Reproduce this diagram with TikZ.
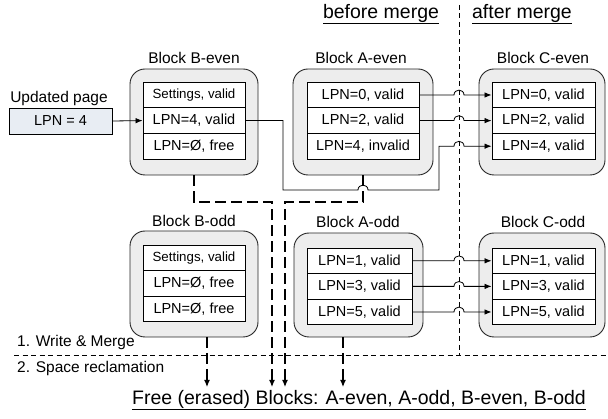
\documentclass[tikz,border=0pt]{standalone}
\usepackage{fontspec}
\setmainfont{Liberation Sans}
\usetikzlibrary{arrows.meta}
\begin{document}
\begin{tikzpicture}[x=1pt,y=-1pt,
  blk/.style={draw=black!85, fill=black!7, rounded corners=15pt, line width=0.9pt, inner sep=0pt},
  cell/.style={draw=black, fill=white, line width=0.9pt, inner sep=0pt, minimum height=25.6pt, font=\fontsize{14.5}{16}\selectfont},
  ttl/.style={font=\fontsize{15.5}{18}\selectfont, inner sep=0pt},
  hdr/.style={font=\fontsize{19.5}{22}\selectfont, inner sep=0pt},
  lbl/.style={font=\fontsize{15.5}{18}\selectfont, inner sep=0pt, anchor=west},
  conn/.style={line width=0.8pt, -{Latex[length=7pt,width=5.5pt]}},
  wire/.style={line width=0.8pt},
  dconn/.style={line width=1.2pt, dash pattern=on 11pt off 5pt, -{Latex[length=7pt,width=6pt]}},
  sep/.style={line width=0.8pt, dash pattern=on 5pt off 3.5pt}
]
\useasboundingbox (0,0) rectangle (608,419);

% headers
\node[hdr] (hbefore) at (381,14) {\underline{before merge}};
\node[hdr] (hafter) at (522,14) {\underline{after merge}};

% separators
\coordinate (vtop) at (459,5);
\coordinate (vbot) at (459,355);
\coordinate (hleft) at (14,355);
\coordinate (hright) at (608,355);
\draw[sep] (vtop) -- (vbot);
\draw[sep] (hleft) -- (hright);

% Updated page
\node[ttl] (uptxt) at (59,98) {Updated page};
\node[draw=black, fill={rgb,255:red,232;green,237;blue,243}, line width=0.9pt, minimum width=103pt, minimum height=26pt, inner sep=0pt, font=\fontsize{14.5}{16}\selectfont] (upd) at (60.5,121) {LPN = 4};

% Block B-even
\node[ttl] (tBev) at (194,58) {Block B-even};
\node[blk, minimum width=128pt, minimum height=106pt] (Bev) at (194,122) {};
\node[cell, minimum width=102pt] (be1) at (194,95) {\fontsize{13.3}{15}\selectfont Settings, valid};
\node[cell, minimum width=102pt] (be2) at (194,120.6) {LPN=4, valid};
\node[cell, minimum width=102pt] (be3) at (194,146.2) {LPN=Ø, free};

% Block A-even
\node[ttl] (tAev) at (361,58) {Block A-even};
\node[blk, minimum width=140pt, minimum height=106pt] (Aev) at (363,122) {};
\node[cell, minimum width=112pt] (ae1) at (363,95) {LPN=0, valid};
\node[cell, minimum width=112pt] (ae2) at (363,120.6) {LPN=2, valid};
\node[cell, minimum width=112pt] (ae3) at (363,146.2) {LPN=4, invalid};

% Block C-even
\node[ttl] (tCev) at (543,58) {Block C-even};
\node[blk, minimum width=126pt, minimum height=106pt] (Cev) at (542,122) {};
\node[cell, minimum width=103pt] (ce1) at (543.5,95) {LPN=0, valid};
\node[cell, minimum width=103pt] (ce2) at (543.5,120.6) {LPN=2, valid};
\node[cell, minimum width=103pt] (ce3) at (543.5,146.2) {LPN=4, valid};

% Block B-odd
\node[ttl] (tBod) at (194,221) {Block B-odd};
\node[blk, minimum width=128pt, minimum height=106pt] (Bod) at (194,284) {};
\node[cell, minimum width=102pt] (bo1) at (194,257.8) {\fontsize{13.3}{15}\selectfont Settings, valid};
\node[cell, minimum width=102pt] (bo2) at (194,283.4) {LPN=Ø, free};
\node[cell, minimum width=102pt] (bo3) at (194,309) {LPN=Ø, free};

% Block A-odd
\node[ttl] (tAod) at (358,222) {Block A-odd};
\node[blk, minimum width=129pt, minimum height=104pt] (Aod) at (358.5,285) {};
\node[cell, minimum width=105pt] (ao1) at (359.5,260.8) {LPN=1, valid};
\node[cell, minimum width=105pt] (ao2) at (359.5,286.4) {LPN=3, valid};
\node[cell, minimum width=105pt] (ao3) at (359.5,312) {LPN=5, valid};

% Block C-odd
\node[ttl] (tCod) at (543,222) {Block C-odd};
\node[blk, minimum width=126pt, minimum height=104pt] (Cod) at (542,285) {};
\node[cell, minimum width=103pt] (co1) at (543.5,260.8) {LPN=1, valid};
\node[cell, minimum width=103pt] (co2) at (543.5,286.4) {LPN=3, valid};
\node[cell, minimum width=103pt] (co3) at (543.5,312) {LPN=5, valid};

% labels
\node[lbl] (wm) at (17,342) {1. Write \& Merge};
\node[lbl] (sr) at (17,368) {2. Space reclamation};
\node[hdr] (free) at (359,400) {\underline{Free (erased) Blocks: A-even, A-odd, B-even, B-odd}};

% updated page arrow
\draw[conn] (upd.east) -- (be2.west);

% merge arrows (even)
\draw[conn] (ae1.east) -- (454,95) .. controls (454,88.5) and (464,88.5) .. (464,95) -- (ce1.west);
\draw[conn] (ae2.east) -- (454,120.6) .. controls (454,114.1) and (464,114.1) .. (464,120.6) -- (ce2.west);
\draw[conn] (be2.east) -- (283,120.6) -- (283,190) -- (358,190) .. controls (358,183.5) and (368,183.5) .. (368,190) -- (439,190) -- (439,146.2) -- (454,146.2) .. controls (454,139.7) and (464,139.7) .. (464,146.2) -- (ce3.west);

% merge arrows (odd)
\draw[conn] (ao1.east) -- (454,260.8) .. controls (454,254.3) and (464,254.3) .. (464,260.8) -- (co1.west);
\draw[conn] (ao2.east) -- (454,286.4) .. controls (454,279.9) and (464,279.9) .. (464,286.4) -- (co2.west);
\draw[conn] (ao3.east) -- (454,312) .. controls (454,305.5) and (464,305.5) .. (464,312) -- (co3.west);

% reclamation arrows
\coordinate (fBev) at (272,387);
\coordinate (fAev) at (285,387);
\coordinate (fBod) at (207,387);
\coordinate (fAod) at (343,387);
\draw[dconn] (Bev.south) -- (194,202) -- (272,202) -- (fBev);
\draw[dconn] (Aev.south) -- (363,202) -- (285,202) -- (fAev);
\draw[dconn] (207,337) -- (fBod);
\draw[dconn] (343,337) -- (fAod);
\end{tikzpicture}
\end{document}
